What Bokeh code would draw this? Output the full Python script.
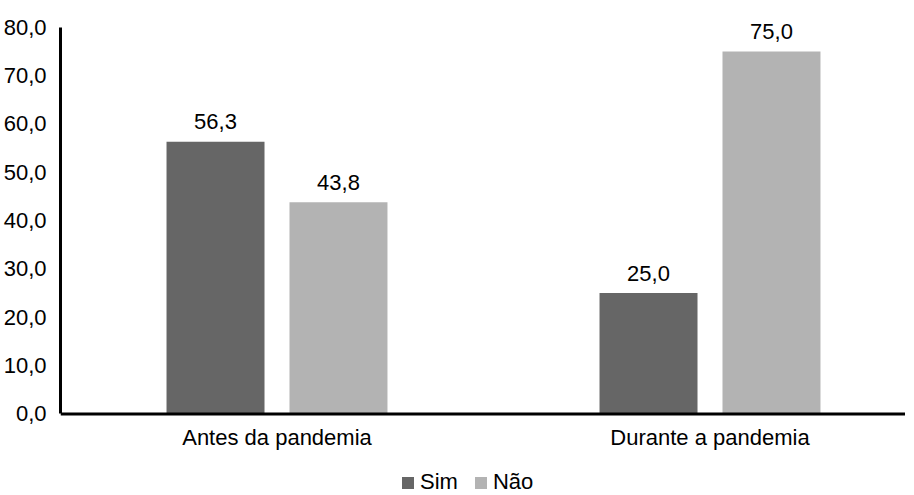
from bokeh.plotting import figure
from bokeh.models import FixedTicker, Legend, LegendItem, ColumnDataSource, Span
from bokeh.core.properties import value
from bokeh.embed import file_html
from bokeh.resources import INLINE

categories = ["Antes da pandemia", "Durante a pandemia"]
sim = [56.3, 25.0]
nao = [43.8, 75.0]
y_ticks = [0, 10, 20, 30, 40, 50, 60, 70, 80]
y_tick_labels = ["0,0", "10,0", "20,0", "30,0", "40,0", "50,0", "60,0", "70,0", "80,0"]
series_names = ["Sim", "Não"]
colors = ["#666666", "#b3b3b3"]

FONT = "Liberation Sans"
FS = "22px"
offset = 0.142
bar_w = 0.2263

def fmt(v):
    return f"{v:.1f}".replace(".", ",")

centers = [i + 0.5 for i in range(len(categories))]

p = figure(frame_width=845, frame_height=487, x_range=(0, 845 / 433),
           y_range=(-16.86, 83.87),
           output_backend="svg", toolbar_location=None,
           min_border_left=53, min_border_top=8, min_border_bottom=0, min_border_right=0)
p.outline_line_color = None
p.xgrid.visible = False
p.ygrid.visible = False
p.xaxis.visible = False
p.background_fill_color = "white"
p.border_fill_color = "white"

renderers = []
for vals, off, col, name in [(sim, -offset, colors[0], series_names[0]),
                             (nao, offset, colors[1], series_names[1])]:
    src = ColumnDataSource(dict(x=[c + off for c in centers], top=vals,
                                lab=[fmt(v) for v in vals]))
    r = p.vbar(x="x", top="top", width=bar_w, bottom=0, source=src,
               fill_color=col, line_color=None)
    renderers.append((name, r))
    p.text(x="x", y="top", text="lab", source=src, text_align="center",
           text_baseline="alphabetic", y_offset=-20,
           text_font=value(FONT), text_font_size=FS, text_color="#000000")

# x axis line at zero and category labels
p.add_layout(Span(location=0, dimension="width", line_color="black", line_width=3))
cat_src = ColumnDataSource(dict(x=centers, y=[0] * len(centers), lab=categories))
p.text(x="x", y="y", text="lab", source=cat_src, text_align="center",
       text_baseline="alphabetic", y_offset=23.5,
       text_font=value(FONT), text_font_size=FS, text_color="#000000")

ax = p.yaxis[0]
ax.bounds = (0, 80)
ax.axis_line_width = 3
ax.axis_line_color = "black"
ax.major_tick_line_color = None
ax.minor_tick_line_color = None
ax.major_label_text_font = FONT
ax.major_label_text_font_size = FS
ax.major_label_text_color = "#000000"
ax.ticker = FixedTicker(ticks=y_ticks)
ax.major_label_overrides = {t: l for t, l in zip(y_ticks, y_tick_labels)}
ax.major_label_standoff = 8

legend = Legend(items=[LegendItem(label=n, renderers=[r]) for n, r in renderers],
                orientation="horizontal", location=(340, 0),
                glyph_width=15, glyph_height=15, label_height=13,
                label_standoff=5, spacing=15,
                padding=0, margin=0, border_line_color=None,
                background_fill_alpha=0,
                label_text_font=FONT, label_text_font_size=FS,
                label_text_line_height=1.0,
                label_text_color="#000000")
p.add_layout(legend, "center")

open("out.html", "w").write(file_html(p, INLINE))
